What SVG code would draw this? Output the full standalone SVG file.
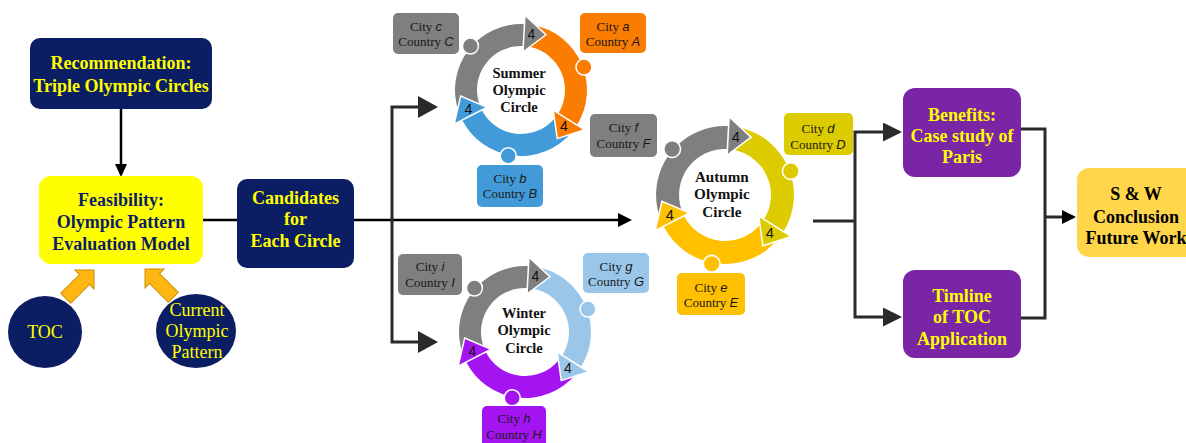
<svg xmlns="http://www.w3.org/2000/svg" width="1186" height="443" viewBox="0 0 1186 443">
<style>
.bt{font-family:"Liberation Serif","Times New Roman",serif;font-weight:bold;font-size:18px;text-anchor:middle}
.y{fill:#ffff00}
.n{fill:#0c1e63}
.k{fill:#000}
.rt{font-family:"Liberation Serif","Times New Roman",serif;font-size:18px;fill:#ffff00;text-anchor:middle}
.ct{font-family:"Liberation Serif","Times New Roman",serif;font-weight:bold;font-size:14.5px;fill:#111;text-anchor:middle}
.lb{font-family:"Liberation Serif","Times New Roman",serif;font-size:13px;fill:#1a1a1a;text-anchor:middle}
.it{font-family:"Liberation Sans",Arial,sans-serif;font-style:italic}
.four{font-family:"Liberation Sans",Arial,sans-serif;font-size:14px;fill:#111;text-anchor:middle}
.ln{fill:none;stroke:#2a2a2a;stroke-width:3}
.lk{fill:none;stroke:#000;stroke-width:2.5}
.hd{stroke:#fff;stroke-width:1.5}
.dot{stroke:#fff;stroke-width:1.5}
.blk{fill:#ffb612;stroke:#c98f00;stroke-width:1}
.navy{fill:#0c1e63}
.purp{fill:#7a24a6}
</style>
<defs>
<marker id="mS" viewBox="0 0 13 12" markerWidth="13" markerHeight="12" refX="10" refY="6" orient="auto" markerUnits="userSpaceOnUse"><path d="M0,0 L13,6 L0,12 Z" fill="#000"/></marker>
<marker id="mK" viewBox="0 0 14 14" markerWidth="14" markerHeight="14" refX="11" refY="7" orient="auto" markerUnits="userSpaceOnUse"><path d="M0,0 L14,7 L0,14 Z" fill="#000"/></marker>
<marker id="mD" viewBox="0 0 20 22" markerWidth="20" markerHeight="22" refX="17" refY="11" orient="auto" markerUnits="userSpaceOnUse"><path d="M0,0 L20,11 L0,22 Z" fill="#2a2a2a"/></marker>
<marker id="mM" viewBox="0 0 19 19" markerWidth="19" markerHeight="19" refX="16" refY="9.5" orient="auto" markerUnits="userSpaceOnUse"><path d="M0,0 L19,9.5 L0,19 Z" fill="#2a2a2a"/></marker>
<path id="sG" d="M-62.40,21.49 A66,66 0 0 1 3.45,-65.91 L2.30,-43.94 A44,44 0 0 0 -41.60,14.33 Z"/>
<path id="sA" d="M12.59,-64.79 A66,66 0 0 1 55.97,34.97 L37.31,23.32 A44,44 0 0 0 8.40,-43.19 Z"/>
<path id="sB" d="M50.56,42.42 A66,66 0 0 1 -58.81,29.96 L-39.20,19.98 A44,44 0 0 0 33.71,28.28 Z"/>
<path id="hG" d="M1.99,-37.95 L3.93,-74.90 L24.93,-55.27 Z"/>
<path id="hA" d="M32.23,20.14 L63.60,39.74 L36.26,48.60 Z"/>
<path id="hB" d="M-33.86,17.25 L-66.83,34.05 L-60.33,6.05 Z"/>
<path id="blkArrow" d="M0,0 L-13.5,-13.5 L-13.5,-7 L-40,-7 L-40,7 L-13.5,7 L-13.5,13.5 Z"/>
</defs>
<rect width="1186" height="443" fill="#fff"/>

<g id="connectors">
<path class="lk" d="M121,109 V174" marker-end="url(#mS)"/>
<path class="lk" d="M203,220 H237"/>
<path class="lk" d="M354,220 H629" marker-end="url(#mK)"/>
<path class="ln" d="M392,220 V107 H435" marker-end="url(#mD)"/>
<path class="ln" d="M392,220 V342 H435" marker-end="url(#mD)"/>
<path class="ln" d="M813,221 H855"/>
<path class="ln" d="M855,221 V132 H899" marker-end="url(#mM)"/>
<path class="ln" d="M855,221 V317 H899" marker-end="url(#mM)"/>
<path class="ln" d="M1021,129 H1045 V318 H1021"/>
<path class="ln" d="M1045,217 H1073" marker-end="url(#mK)"/>
<use href="#blkArrow" class="blk" transform="translate(94,270) rotate(-45)"/>
<use href="#blkArrow" class="blk" transform="translate(145,269) rotate(-135)"/>
</g>

<g id="recommendation">
<rect x="30" y="38" width="182" height="71" rx="10" class="navy"/>
<text class="bt y" x="121" y="69">Recommendation:</text>
<text class="bt y" x="121" y="92">Triple Olympic Circles</text>
</g>

<g id="feasibility">
<rect x="39" y="176" width="164" height="88" rx="12" fill="#ffff00"/>
<text class="bt n" x="121" y="206">Feasibility:</text>
<text class="bt n" x="121" y="228">Olympic Pattern</text>
<text class="bt n" x="121" y="250">Evaluation Model</text>
</g>

<g id="candidates">
<rect x="237" y="179" width="117" height="89" rx="10" class="navy"/>
<text class="bt y" x="295.5" y="204">Candidates</text>
<text class="bt y" x="295.5" y="225">for</text>
<text class="bt y" x="295.5" y="247">Each Circle</text>
</g>

<g id="toc">
<ellipse cx="45" cy="332" rx="37" ry="36" class="navy"/>
<text class="rt" x="45" y="338">TOC</text>
</g>

<g id="current-pattern">
<ellipse cx="196" cy="331" rx="40" ry="37" class="navy"/>
<text class="rt" x="197" y="316">Current</text>
<text class="rt" x="197" y="337">Olympic</text>
<text class="rt" x="197" y="358">Pattern</text>
</g>

<g id="summer-circle" transform="translate(521,90)">
<use href="#sG" fill="#7f7f7f"/>
<use href="#sA" fill="#fa7c00"/>
<use href="#sB" fill="#439ad8"/>
<use href="#hG" class="hd" fill="#7f7f7f"/>
<use href="#hA" class="hd" fill="#fa7c00"/>
<use href="#hB" class="hd" fill="#439ad8"/>
<circle cx="-50.57" cy="-43.96" r="8" class="dot" fill="#7f7f7f"/>
<circle cx="62.96" cy="-22.92" r="8" class="dot" fill="#fa7c00"/>
<circle cx="-12.78" cy="65.77" r="8" class="dot" fill="#439ad8"/>
<text class="four" x="10.3" y="-51">4</text>
<text class="four" x="43" y="41">4</text>
<text class="four" x="-52.7" y="24">4</text>
<text class="ct" x="-2" y="-12">Summer</text>
<text class="ct" x="-2" y="5">Olympic</text>
<text class="ct" x="-2" y="22">Circle</text>
</g>

<g id="autumn-circle" transform="translate(725,195) scale(1.045)">
<use href="#sG" fill="#7f7f7f"/>
<use href="#sA" fill="#dccb00"/>
<use href="#sB" fill="#ffc000"/>
<use href="#hG" class="hd" fill="#7f7f7f"/>
<use href="#hA" class="hd" fill="#dccb00"/>
<use href="#hB" class="hd" fill="#ffc000"/>
<circle cx="-50.57" cy="-43.96" r="8" class="dot" fill="#7f7f7f"/>
<circle cx="62.96" cy="-22.92" r="8" class="dot" fill="#dccb00"/>
<circle cx="-12.78" cy="65.77" r="8" class="dot" fill="#ffc000"/>
<text class="four" x="10.3" y="-51">4</text>
<text class="four" x="43" y="41">4</text>
<text class="four" x="-52.7" y="24">4</text>
<text class="ct" x="-3" y="-12.4">Autumn</text>
<text class="ct" x="-3" y="4">Olympic</text>
<text class="ct" x="-3" y="21.5">Circle</text>
</g>

<g id="winter-circle" transform="translate(525,332)">
<use href="#sG" fill="#7f7f7f"/>
<use href="#sA" fill="#9ac6ea"/>
<use href="#sB" fill="#a414f0"/>
<use href="#hG" class="hd" fill="#7f7f7f"/>
<use href="#hA" class="hd" fill="#9ac6ea"/>
<use href="#hB" class="hd" fill="#a414f0"/>
<circle cx="-50.57" cy="-43.96" r="8" class="dot" fill="#7f7f7f"/>
<circle cx="62.96" cy="-22.92" r="8" class="dot" fill="#9ac6ea"/>
<circle cx="-12.78" cy="65.77" r="8" class="dot" fill="#a414f0"/>
<text class="four" x="10.3" y="-51">4</text>
<text class="four" x="43" y="41">4</text>
<text class="four" x="-52.7" y="24">4</text>
<text class="ct" x="-1" y="-14">Winter</text>
<text class="ct" x="-1" y="3">Olympic</text>
<text class="ct" x="-1" y="20.5">Circle</text>
</g>

<g id="label-c">
<rect x="393" y="13" width="66" height="41" rx="5" fill="#7f7f7f"/>
<text class="lb" x="426" y="31">City <tspan class="it">c</tspan></text>
<text class="lb" x="426" y="46">Country <tspan class="it">C</tspan></text>
</g>
<g id="label-a">
<rect x="580" y="13" width="66" height="40" rx="5" fill="#fa7c00"/>
<text class="lb" x="613" y="31">City <tspan class="it">a</tspan></text>
<text class="lb" x="613" y="46">Country <tspan class="it">A</tspan></text>
</g>
<g id="label-b">
<rect x="477" y="165" width="66" height="42" rx="5" fill="#439ad8"/>
<text class="lb" x="510" y="183">City <tspan class="it">b</tspan></text>
<text class="lb" x="510" y="198">Country <tspan class="it">B</tspan></text>
</g>
<g id="label-f">
<rect x="590" y="114" width="67" height="43" rx="5" fill="#7f7f7f"/>
<text class="lb" x="623.5" y="132">City <tspan class="it">f</tspan></text>
<text class="lb" x="623.5" y="148">Country <tspan class="it">F</tspan></text>
</g>
<g id="label-d">
<rect x="784" y="113" width="69" height="42" rx="5" fill="#dccb00"/>
<text class="lb" x="818" y="133">City <tspan class="it">d</tspan></text>
<text class="lb" x="818" y="149">Country <tspan class="it">D</tspan></text>
</g>
<g id="label-e">
<rect x="677" y="273" width="68" height="42" rx="5" fill="#ffc000"/>
<text class="lb" x="711" y="292">City <tspan class="it">e</tspan></text>
<text class="lb" x="711" y="307">Country <tspan class="it">E</tspan></text>
</g>
<g id="label-i">
<rect x="398" y="254" width="64" height="41" rx="5" fill="#7f7f7f"/>
<text class="lb" x="430" y="271">City <tspan class="it">i</tspan></text>
<text class="lb" x="430" y="287">Country <tspan class="it">I</tspan></text>
</g>
<g id="label-g">
<rect x="583" y="253" width="66" height="40" rx="5" fill="#9ac6ea"/>
<text class="lb" x="616" y="271">City <tspan class="it">g</tspan></text>
<text class="lb" x="616" y="286">Country <tspan class="it">G</tspan></text>
</g>
<g id="label-h">
<rect x="482" y="406" width="64" height="42" rx="5" fill="#a414f0"/>
<text class="lb" x="514" y="423">City <tspan class="it">h</tspan></text>
<text class="lb" x="514" y="439">Country <tspan class="it">H</tspan></text>
</g>

<g id="benefits">
<rect x="903" y="88" width="118" height="89" rx="12" class="purp"/>
<text class="bt y" x="962" y="121">Benefits:</text>
<text class="bt y" x="962" y="142">Case study of</text>
<text class="bt y" x="962" y="163">Paris</text>
</g>

<g id="timeline">
<rect x="903" y="270" width="118" height="88" rx="12" class="purp"/>
<text class="bt y" x="962" y="302">Timline</text>
<text class="bt y" x="962" y="323">of TOC</text>
<text class="bt y" x="962" y="345">Application</text>
</g>

<g id="conclusion">
<rect x="1077" y="168" width="122" height="89" rx="12" fill="#ffd54a"/>
<text class="bt k" x="1136" y="200">S &amp; W</text>
<text class="bt k" x="1136" y="223">Conclusion</text>
<text class="bt k" x="1136" y="244">Future Work</text>
</g>
</svg>
